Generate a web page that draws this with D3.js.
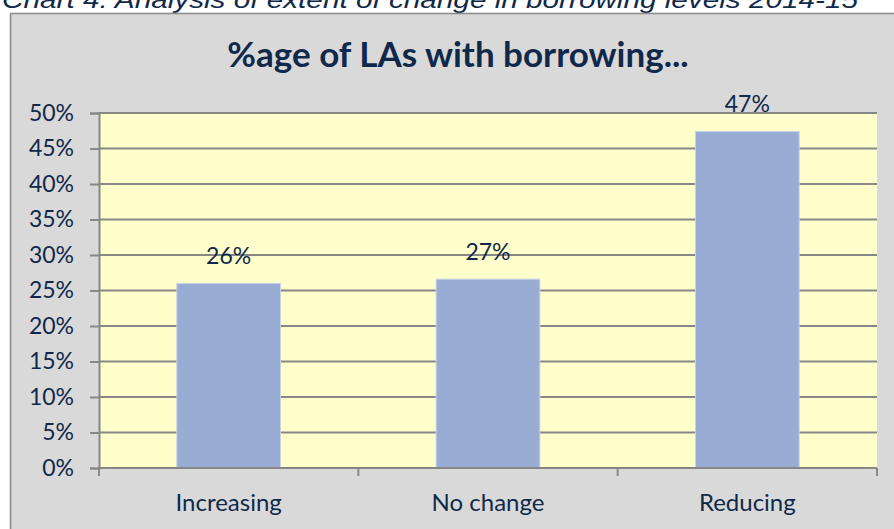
<!DOCTYPE html>
<html>
<head>
<meta charset="utf-8">
<script src="https://cdn.jsdelivr.net/npm/d3@7/dist/d3.min.js"></script>
<style>
  html, body { margin: 0; padding: 0; background: #ffffff; }
  svg { display: block; }
  text { font-family: Lato, "Open Sans", sans-serif; fill: #10294b; }
</style>
</head>
<body>
<svg id="chart" width="894" height="529"></svg>
<script>
// Share of local authorities by direction of change in borrowing
const categories = ["Increasing", "No change", "Reducing"];
const shares = [0.26, 0.266, 0.474];
const yTicks = [0, 0.05, 0.10, 0.15, 0.20, 0.25, 0.30, 0.35, 0.40, 0.45, 0.50];
const chartTitle = "%age of LAs with borrowing...";
const caption = "Chart 4: Analysis of extent of change in borrowing levels 2014-15";

const W = 894, H = 529;
const plot = { left: 99, right: 877, top: 113, bottom: 468 };

const svg = d3.select("#chart");
const pct = d3.format(".0%");

// caption above the chart frame
svg.append("text")
  .attr("x", 2)
  .attr("y", 7.5)
  .attr("textLength", 856)
  .attr("lengthAdjust", "spacingAndGlyphs")
  .style("font-family", "'Liberation Sans', Arial, sans-serif")
  .style("font-style", "italic")
  .style("font-size", "23px")
  .style("fill", "#10294b")
  .text(caption);

// chart frame
svg.append("rect")
  .attr("x", 10.5).attr("y", 13.5)
  .attr("width", 920).attr("height", 560)
  .attr("fill", "#d9d9d9")
  .attr("stroke", "#8e8e8e")
  .attr("stroke-width", 1.6);

// title
svg.append("text")
  .attr("x", 458)
  .attr("y", 67)
  .attr("text-anchor", "middle")
  .style("font-size", "35px")
  .style("font-weight", "bold")
  .text(chartTitle);

const x = d3.scaleBand()
  .domain(categories)
  .range([plot.left, plot.right])
  .paddingInner(0.6)
  .paddingOuter(0.3);

const y = d3.scaleLinear()
  .domain([0, 0.5])
  .range([plot.bottom, plot.top]);

// plot area
svg.append("rect")
  .attr("x", plot.left).attr("y", plot.top)
  .attr("width", plot.right - plot.left)
  .attr("height", plot.bottom - plot.top)
  .attr("fill", "#ffffcc");

// horizontal gridlines
svg.append("g")
  .selectAll("line")
  .data(yTicks.filter(d => d > 0))
  .join("line")
  .attr("x1", plot.left).attr("x2", plot.right)
  .attr("y1", d => y(d)).attr("y2", d => y(d))
  .attr("stroke", "#878787")
  .attr("stroke-width", 2);

// bars
svg.append("g")
  .selectAll("rect")
  .data(categories)
  .join("rect")
  .attr("x", d => x(d))
  .attr("width", x.bandwidth())
  .attr("y", (d, i) => y(shares[i]))
  .attr("height", (d, i) => y(0) - y(shares[i]))
  .attr("fill", "#99acd4")
  .attr("stroke", "#c9d3e8")
  .attr("stroke-width", 1);

// value labels
svg.append("g")
  .selectAll("text")
  .data(categories)
  .join("text")
  .attr("x", d => x(d) + x.bandwidth() / 2)
  .attr("y", (d, i) => y(shares[i]) - 19)
  .attr("text-anchor", "middle")
  .style("font-size", "23px")
  .text((d, i) => pct(shares[i]));

// y axis
const yAxis = svg.append("g")
  .attr("transform", `translate(${plot.left},0)`)
  .call(d3.axisLeft(y).tickValues(yTicks).tickFormat(pct).tickSize(9).tickPadding(16));
yAxis.select(".domain").attr("stroke", "#878787").attr("stroke-width", 2);
yAxis.selectAll(".tick line").attr("stroke", "#878787").attr("stroke-width", 2);
yAxis.selectAll(".tick text")
  .style("font-size", "23px")
  .style("font-family", "Lato, 'Open Sans', sans-serif")
  .attr("fill", "#10294b");

// x axis with ticks at category boundaries
const step = x.step();
const boundaries = [plot.left, ...categories.map(c => x(c) + x.bandwidth() + step * 0.3)];
const xAxisG = svg.append("g");
xAxisG.append("line")
  .attr("x1", plot.left).attr("x2", plot.right)
  .attr("y1", plot.bottom).attr("y2", plot.bottom)
  .attr("stroke", "#878787").attr("stroke-width", 2);
xAxisG.selectAll("line.tk")
  .data(boundaries)
  .join("line")
  .attr("class", "tk")
  .attr("x1", d => d).attr("x2", d => d)
  .attr("y1", plot.bottom).attr("y2", plot.bottom + 8)
  .attr("stroke", "#878787").attr("stroke-width", 2);
xAxisG.selectAll("text")
  .data(categories)
  .join("text")
  .attr("x", d => x(d) + x.bandwidth() / 2)
  .attr("y", 511)
  .attr("text-anchor", "middle")
  .style("font-size", "24px")
  .text(d => d);
</script>
</body>
</html>
